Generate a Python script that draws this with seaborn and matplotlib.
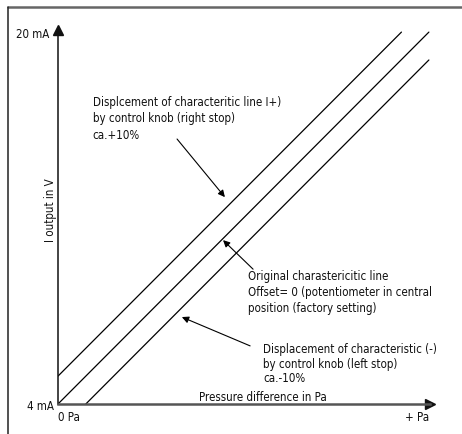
import matplotlib.pyplot as plt
import matplotlib.transforms as mtransforms
import pandas as pd
import seaborn as sns
from matplotlib.lines import Line2D

# Characteristic lines (pressure in % of range, current in mA)
PRESSURE_PLUS = [0, 92.6]
CURRENT_PLUS = [5.2, 20.0]
PRESSURE_ORIG = [0, 100]
CURRENT_ORIG = [4.0, 20.0]
PRESSURE_MINUS = [7.5, 100]
CURRENT_MINUS = [4.0, 18.8]

Y_TICKS = [4, 20]
Y_TICK_LABELS = ["4 mA", "20 mA"]
X_TICKS = [0, 100]
X_TICK_LABELS = ["0 Pa", "+ Pa"]

TEXT_PLUS = "Displcement of characteritic line I+)\nby control knob (right stop)\nca.+10%"
TEXT_ORIG = "Original charastericitic line\nOffset= 0 (potentiometer in central\nposition (factory setting)"
TEXT_MINUS = "Displacement of characteristic (-)\nby control knob (left stop)\nca.-10%"

W, H = 462, 435
FS = 8.3

sns.set_theme(style="white")
plt.rcParams["font.family"] = ["DejaVu Sans"]
plt.rcParams["font.stretch"] = "condensed"
plt.rcParams["font.size"] = FS


def build_dataset() -> pd.DataFrame:
    parts = []
    for name, xs, ys in [
        ("plus", PRESSURE_PLUS, CURRENT_PLUS),
        ("orig", PRESSURE_ORIG, CURRENT_ORIG),
        ("minus", PRESSURE_MINUS, CURRENT_MINUS),
    ]:
        parts.append(pd.DataFrame({"pressure": xs, "current": ys, "line": name}))
    return pd.concat(parts, ignore_index=True)


def main() -> None:
    df = build_dataset()
    fig = plt.figure(figsize=(W / 100, H / 100), dpi=100)
    fig.patch.set_facecolor("white")
    ax = fig.add_axes([58 / W, 1 - 405 / H, (430 - 58) / W, (405 - 31) / H])
    ax.set_facecolor("none")

    sns.lineplot(
        data=df, x="pressure", y="current", hue="line", units="line", estimator=None,
        palette={"plus": "black", "orig": "black", "minus": "black"},
        linewidth=0.9, legend=False, sort=False, ax=ax,
    )
    ax.set_xlim(0, 100.3)
    ax.set_ylim(4, 20.09)

    # axes as arrows
    for side in ["top", "right"]:
        ax.spines[side].set_visible(False)
    ax.spines["left"].set_color("#111111")
    ax.spines["left"].set_linewidth(1.1)
    ax.spines["bottom"].set_color("#555555")
    ax.spines["bottom"].set_linewidth(1.8)
    ax.plot([0], [20.09], marker="^", color="#111111", markersize=7, clip_on=False)
    ax.plot([100.3], [4], marker=">", color="#111111", markersize=7, clip_on=False)

    ax.set_yticks(Y_TICKS)
    ax.set_yticklabels(Y_TICK_LABELS)
    ax.set_xticks(X_TICKS)
    ax.set_xticklabels(X_TICK_LABELS)
    ax.tick_params(axis="both", length=0, labelsize=FS, colors="#111111")
    ax.tick_params(axis="y", pad=3)
    ax.tick_params(axis="x", pad=4)
    xlabels = ax.get_xticklabels()
    xlabels[0].set_ha("left")
    xlabels[1].set_ha("right")
    # the top label sits a little further from the arrow
    top_label = ax.yaxis.get_major_ticks()[1].label1
    top_label.set_transform(top_label.get_transform()
                            + mtransforms.ScaledTranslation(-4 / 100, 0, fig.dpi_scale_trans))

    ax.set_xlabel("")
    ax.set_ylabel("I output in V", fontsize=FS, color="#111111")
    ax.yaxis.set_label_coords(-1 / 372, 0.52)
    ax.text(38, 4.34, "Pressure difference in Pa", va="center", ha="left", color="#111111")

    arrow = dict(arrowstyle="-|>", color="black", lw=0.8, mutation_scale=10, shrinkA=0, shrinkB=0)
    ax.text(9.4, 17.3, TEXT_PLUS, va="top", ha="left", linespacing=1.35, color="#111111")
    ax.annotate("", xy=(45.0, 12.9), xytext=(32.1, 15.4), arrowprops=arrow)

    ax.text(51.2, 9.8, TEXT_ORIG, va="top", ha="left", linespacing=1.3, color="#111111")
    ax.annotate("", xy=(44.5, 11.05), xytext=(52.6, 9.8), arrowprops=arrow)

    ax.text(55.3, 6.65, TEXT_MINUS, va="top", ha="left", linespacing=1.15, color="#111111")
    ax.annotate("", xy=(33.4, 7.74), xytext=(51.8, 6.5), arrowprops=arrow)

    # drawing frame (cropped on right and bottom)
    fig.add_artist(Line2D([8 / W, 1.0], [1 - 8 / H, 1 - 8 / H], color="#666666", lw=1.8))
    fig.add_artist(Line2D([8 / W, 8 / W], [0.0, 1 - 8 / H], color="#222222", lw=1.1))

    fig.savefig("out.png", dpi=100)
    plt.close(fig)


if __name__ == "__main__":
    main()
